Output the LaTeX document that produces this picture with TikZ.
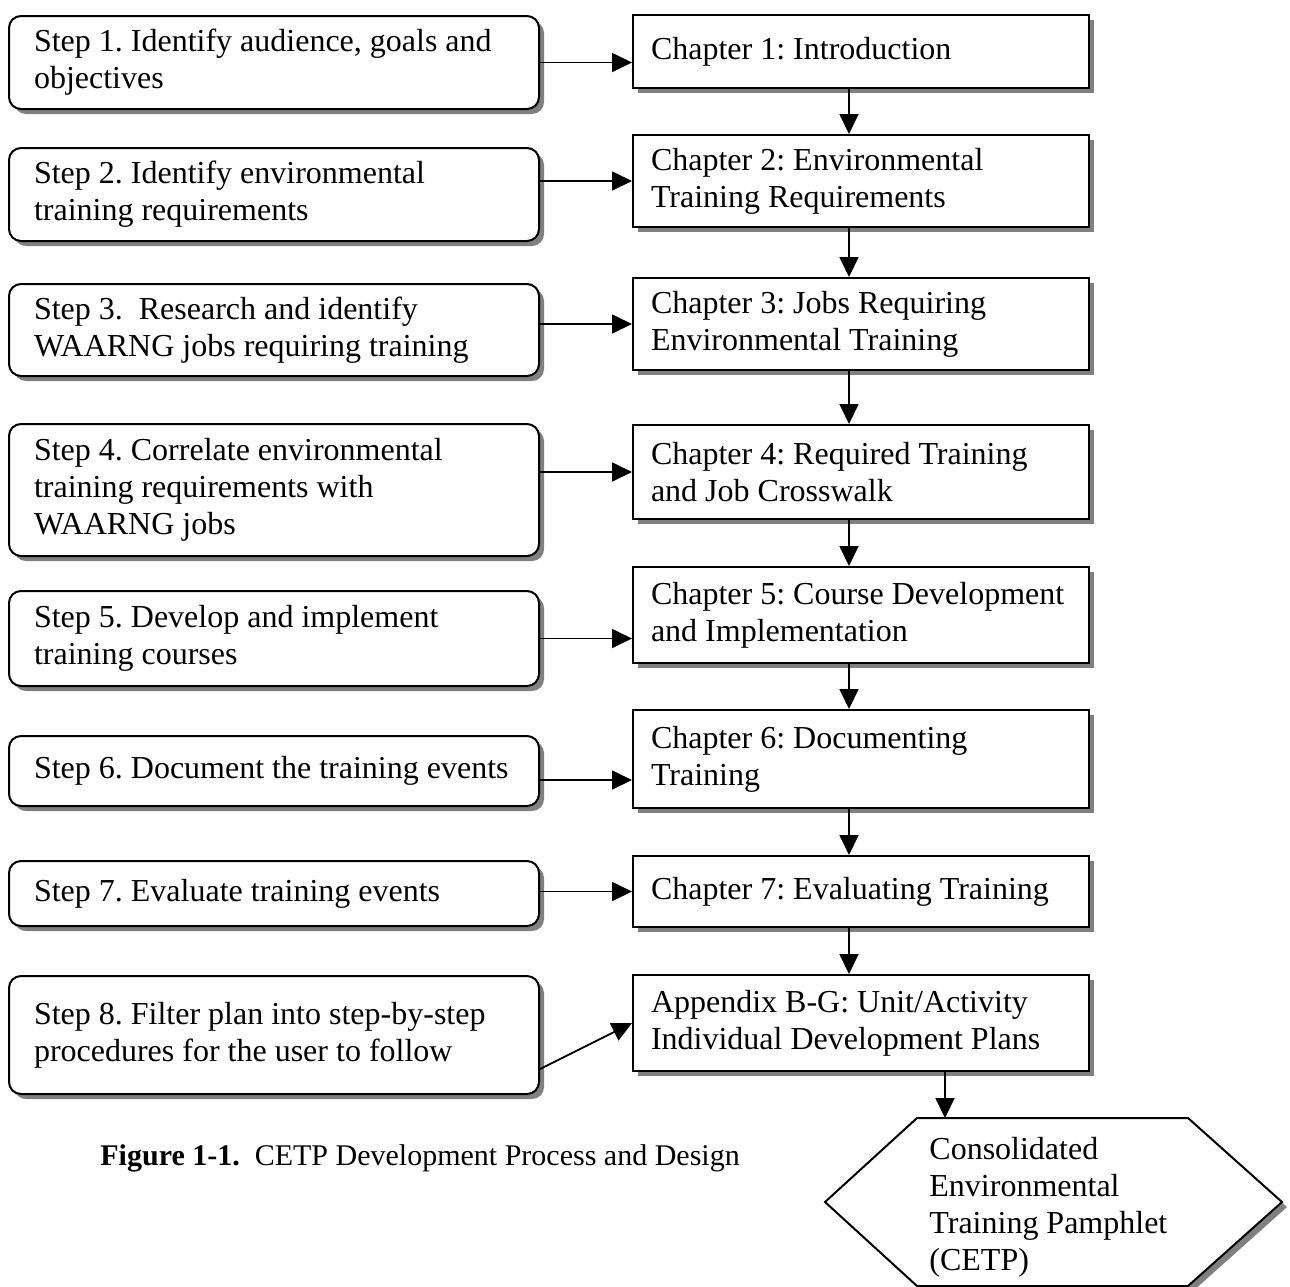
\documentclass[tikz,border=0pt]{standalone}
\usepackage{fontspec}
\setmainfont{Liberation Serif}
\usepackage{tikz}
\usetikzlibrary{arrows.meta,shadows,positioning,calc}

\tikzset{
	boxfont/.style={font=\fontsize{16pt}{18.5pt}\selectfont\frenchspacing},
	plainspaces/.style={execute at begin node={\spaceskip=0pt\xspaceskip=0pt\rightskip=0pt plus 1fil}},
	boxshadow/.style={drop shadow={shadow xshift=2.5pt,shadow yshift=-2.5pt,fill=black!50,opacity=1}},
	stepbox/.style={boxfont,draw,line width=1pt,rounded corners=6pt,fill=white,boxshadow,
		anchor=north west,align=left,plainspaces,text width=240pt,inner xsep=12.5pt,inner ysep=0pt},
	chapbox/.style={boxfont,draw,line width=1pt,fill=white,boxshadow,
		anchor=north west,align=left,plainspaces,text width=210pt,inner xsep=9pt,inner ysep=0pt},
	arr/.style={-{Triangle[length=10pt,width=9.5pt]},line width=0.9pt}
}

\begin{document}
\begin{tikzpicture}[x=0.5pt,y=-0.5pt]
			\useasboundingbox (0,0) rectangle (1290,1286);
			% step boxes (left column)
			\node[stepbox,minimum height=46.5pt] (s1) at (8,15) {Step 1. Identify audience, goals and\\objectives};
			\node[stepbox,minimum height=46.5pt] (s2) at (8,147) {Step 2. Identify environmental\\training requirements};
			\node[stepbox,minimum height=46pt] (s3) at (8,283) {Step 3.\ \ Research and identify\\WAARNG jobs requiring training};
			\node[stepbox,minimum height=66pt] (s4) at (8,423) {Step 4. Correlate environmental\\training requirements with\\WAARNG jobs};
			\node[stepbox,minimum height=47.5pt] (s5) at (8,590) {Step 5. Develop and implement\\training courses};
			\node[stepbox,minimum height=35pt] (s6) at (8,735) {Step 6. Document the training events};
			\node[stepbox,minimum height=32.5pt] (s7) at (8,860) {Step 7. Evaluate training events};
			\node[stepbox,minimum height=59pt] (s8) at (8,975) {Step 8. Filter plan into step-by-step\\procedures for the user to follow};
			% chapter boxes (right column)
			\node[chapbox,minimum height=36.5pt] (c1) at (632,14) {Chapter 1: Introduction};
			\node[chapbox,minimum height=46pt] (c2) at (632,134) {Chapter 2: Environmental\\Training Requirements};
			\node[chapbox,minimum height=46pt] (c3) at (632,277) {Chapter 3: Jobs Requiring\\Environmental Training};
			\node[chapbox,minimum height=47pt] (c4) at (632,424) {Chapter 4: Required Training\\and Job Crosswalk};
			\node[chapbox,minimum height=48pt] (c5) at (632,566) {Chapter 5: Course Development\\and Implementation};
			\node[chapbox,minimum height=49pt] (c6) at (632,709) {Chapter 6: Documenting\\Training};
			\node[chapbox,minimum height=35.5pt] (c7) at (632,855) {Chapter 7: Evaluating Training};
			\node[chapbox,minimum height=48pt] (app) at (632,974) {Appendix B-G: Unit/Activity\\Individual Development Plans};
			% final pamphlet (hexagon)
			\fill[black!50] (922,1123) -- (1193,1123) -- (1287,1207) -- (1193,1291) -- (922,1291) -- (830,1207) -- cycle;
			\draw[line width=1pt,fill=white] (917,1118) -- (1188,1118) -- (1282,1202) -- (1188,1286) -- (917,1286) -- (825,1202) -- cycle;
			\node[boxfont,anchor=west,align=left,plainspaces,inner sep=0pt] (hex) at (929,1207) {Consolidated\\Environmental\\Training Pamphlet\\(CETP)};
			\coordinate (hextop) at (945,1118);
			% caption
			\node[font=\fontsize{15pt}{17pt}\selectfont,anchor=west,inner sep=0pt] (cap) at (100,1158) {\textbf{Figure 1-1.}\ \ CETP Development Process and Design};
			% step -> chapter arrows
			\draw[arr] (s1.east) -- (s1.east -| c1.west);
			\foreach \c in {2,3,4,7} {
				\draw[arr] (c\c.west -| s\c.east) -- (c\c.west);
			}
			\draw[arr] (s5.east) -- (s5.east -| c5.west);
			\draw[arr] ([yshift=-4.5pt]s6.east) -- ([yshift=-4.5pt]s6.east -| c6.west);
			\draw[arr] ([yshift=-17pt]s8.east) -- (app.west);
			% chapter -> chapter arrows
			\foreach \a/\b in {c1/c2,c2/c3,c3/c4,c4/c5,c5/c6,c6/c7,c7/app} {
				\draw[arr] ([xshift=-6pt]\a.south) -- ([xshift=-6pt]\a.south |- \b.north);
			}
			\draw[arr] (app.south -| hextop) -- (hextop);
		\end{tikzpicture}
\end{document}
